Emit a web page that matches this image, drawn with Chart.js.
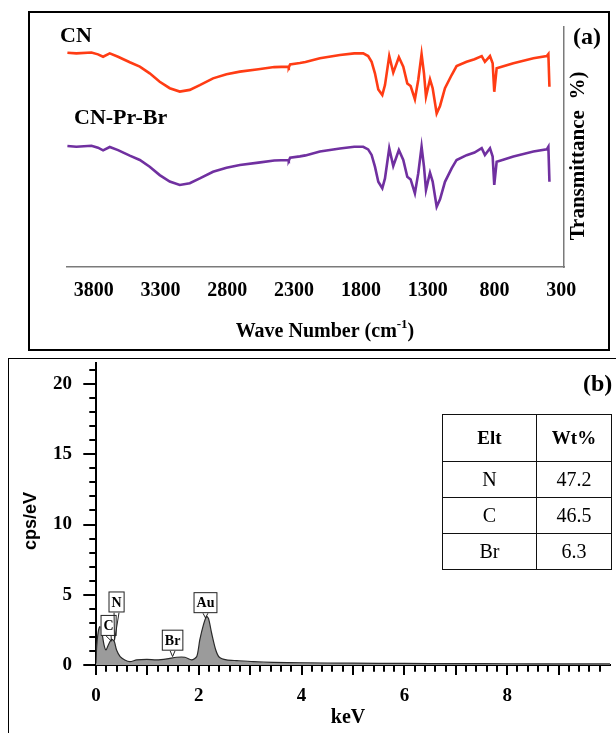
<!DOCTYPE html>
<html><head><meta charset="utf-8">
<script src="https://cdn.jsdelivr.net/npm/chart.js@4.4.1/dist/chart.umd.min.js"></script>
<style>
html,body{margin:0;padding:0;background:#fff;width:616px;height:733px;overflow:hidden;}
#boxA{position:absolute;left:28px;top:11px;width:582px;height:340px;border:2px solid #000;box-sizing:border-box;}
#boxB{position:absolute;left:8px;top:358px;width:640px;height:420px;border:1.5px solid #000;box-sizing:border-box;}
#cA{position:absolute;left:0;top:0;}
#cB{position:absolute;left:0;top:350px;}
#elt{position:absolute;left:442px;top:414px;border-collapse:collapse;font-family:'Liberation Serif','Times New Roman',serif;font-size:20px;color:#000;}
#elt td,#elt th{border:1.5px solid #111;text-align:center;padding:0;}
#elt th{font-weight:bold;height:46px;font-size:19px;}
#elt td{height:35px;}
</style>
</head><body>
<div id="boxA"></div>
<div id="boxB"></div>
<canvas id="cA" width="616" height="350"></canvas>
<canvas id="cB" width="616" height="383"></canvas>
<table id="elt">
<tr><th style="width:93px">Elt</th><th style="width:74px">Wt%</th></tr>
<tr><td>N</td><td>47.2</td></tr>
<tr><td>C</td><td>46.5</td></tr>
<tr><td>Br</td><td>6.3</td></tr>
</table>
<script>
// ---------- Panel (a): FTIR data ----------
const ftirWavenumber = [3997,3930,3817,3768,3730,3680,3618,3530,3455,3381,3306,3231,3156,3081,3006,2907,2806,2706,2567,2449,2345,2340,2330,2257,2215,2107,1957,1850,1783,1746,1720,1695,1670,1640,1620,1588,1558,1516,1483,1453,1428,1396,1371,1346,1328,1313,1296,1283,1263,1233,1208,1171,1121,1084,1009,950,896,872,834,814,802,784,759,659,509,409,397,389];
const cnTransmittance = [89.3,89.0,89.4,88.6,87.6,89.0,87.6,85.3,83.5,80.7,77.2,74.5,73.1,73.8,75.8,78.6,80.3,81.4,82.4,83.3,83.5,83.2,84.4,85.0,85.4,87.0,88.3,89.0,89.0,87.9,85.5,80.7,74.0,71.7,75.8,87.9,81.0,87.4,83.5,76.5,75.4,69.9,77.9,88.75,80.7,71.0,75.1,78.2,74.5,64.0,67.1,74.5,80.0,83.75,85.5,86.6,87.9,85.5,87.9,84.9,73.0,82.8,83.2,84.9,87.0,87.9,88.75,75.1];
const cnPrBrTransmittance = [50.4,50.1,50.5,49.7,48.6,50.0,48.7,46.4,44.6,41.8,38.3,35.6,34.2,34.9,36.9,39.7,41.4,42.5,43.5,44.4,44.6,44.3,45.5,46.1,46.5,48.1,49.4,50.1,50.1,49.0,46.7,41.8,35.5,32.8,36.9,49.5,42.1,48.75,44.6,37.6,36.5,30.7,39.0,50.1,41.8,32.1,36.2,39.3,35.6,25.1,28.2,35.5,41.1,44.6,46.6,47.7,49.5,46.7,49.5,46.0,34.2,43.9,44.3,46.0,48.1,49.0,50.1,35.5];
const ftirTickValues = [3800,3300,2800,2300,1800,1300,800,300];
const ftirSeriesNames = ['CN','CN-Pr-Br'];

// ---------- Panel (b): EDX data ----------
const edxEnergy = [0,0.013,0.045,0.078,0.11,0.156,0.195,0.24,0.305,0.356,0.40,0.47,0.56,0.66,0.79,0.99,1.18,1.38,1.57,1.73,1.86,1.96,2.02,2.09,2.15,2.19,2.25,2.33,2.40,2.54,2.74,3.06,3.45,4.0,5.0,6.0,7.0,8.0,9.0,10.0];
const edxCounts = [0.1,1.3,2.4,2.74,2.4,1.43,1.07,1.43,1.83,1.67,1.07,0.6,0.36,0.24,0.36,0.4,0.36,0.43,0.55,0.55,0.36,0.6,1.8,2.86,3.45,3.3,2.26,1.07,0.55,0.36,0.31,0.24,0.19,0.16,0.13,0.11,0.1,0.09,0.08,0.08];
const edxTickValuesX = [0,2,4,6,8];
const edxTickValuesY = [0,5,10,15,20];
const eltLabels = ['C','N','Br','Au'];
const eltLabelKeV = [0.245,0.40,1.49,2.13];
const eltBoxBottomCps = [2.07,3.74,1.02,3.69];
const eltTargetKeV = [0.30,0.36,1.49,2.13];
const eltTargetCps = [1.7,1.75,0.6,3.35];

const SERIF = '"Liberation Serif","Times New Roman",serif';
const SANS = '"Liberation Sans",Arial,sans-serif';

const annotA = {
  id:'annotA',
  afterDraw(chart){
    const ctx = chart.ctx;
    ctx.save();
    ctx.fillStyle = '#000';
    ctx.textBaseline = 'middle';
    ctx.font = 'bold 22px ' + SERIF;
    ctx.textAlign = 'left';
    ctx.fillText(ftirSeriesNames[0], 60, 36);
    ctx.fillText(ftirSeriesNames[1], 74, 118);
    ctx.font = 'bold 24px ' + SERIF;
    ctx.textAlign = 'center';
    ctx.fillText('(a)', 587, 38);
    ctx.save();
    ctx.translate(579, 156);
    ctx.rotate(-Math.PI/2);
    ctx.font = 'bold 21px ' + SERIF;
    ctx.textAlign = 'center';
    ctx.fillText('Transmittance  %)', 0, 0);
    ctx.restore();
    const p1 = 'Wave Number (cm', sup = '-1', p2 = ')';
    const f1 = 'bold 20px ' + SERIF, f2 = 'bold 13px ' + SERIF;
    ctx.font = f1; const w1 = ctx.measureText(p1).width, w3 = ctx.measureText(p2).width;
    ctx.font = f2; const w2 = ctx.measureText(sup).width;
    let x0 = 325 - (w1+w2+w3)/2;
    ctx.textAlign = 'left';
    ctx.font = f1; ctx.fillText(p1, x0, 332);
    ctx.font = f2; ctx.fillText(sup, x0 + w1, 325);
    ctx.font = f1; ctx.fillText(p2, x0 + w1 + w2, 332);
    ctx.restore();
  }
};

new Chart(document.getElementById('cA'), {
  type:'line',
  data:{datasets:[
    {label:ftirSeriesNames[0], data:ftirWavenumber.map((w,i)=>({x:w,y:cnTransmittance[i]})), borderColor:'#ff3c14', borderWidth:2.6, pointRadius:0, tension:0, fill:false},
    {label:ftirSeriesNames[1], data:ftirWavenumber.map((w,i)=>({x:w,y:cnPrBrTransmittance[i]})), borderColor:'#7030a0', borderWidth:2.6, pointRadius:0, tension:0, fill:false}
  ]},
  options:{
    responsive:false, animation:false, devicePixelRatio:1,
    layout:{padding:{left:67, top:27, right:0, bottom:0}},
    plugins:{legend:{display:false}, tooltip:{enabled:false}},
    scales:{
      x:{type:'linear', position:'bottom', reverse:true, min:280, max:4000,
         afterBuildTicks:s=>{s.ticks = ftirTickValues.map(v=>({value:v}));},
         afterFit:s=>{s.height = 83; s.paddingLeft = 0; s.paddingRight = 0;},
         grid:{display:false, drawTicks:false},
         border:{display:true, color:'#7a7a7a', width:1.5},
         ticks:{font:{family:SERIF, size:20, weight:'bold'}, color:'#000', padding:12, maxRotation:0, autoSkip:false, callback:v=>String(v)}
      },
      y:{type:'linear', position:'right', min:0, max:100,
         afterFit:s=>{s.width = 52; s.paddingTop = 0; s.paddingBottom = 0;},
         grid:{display:false, drawTicks:false},
         border:{display:true, color:'#7a7a7a', width:1.5},
         ticks:{display:false}
      }
    }
  },
  plugins:[annotA]
});

const annotB = {
  id:'annotB',
  afterDatasetsDraw(chart){
    const ctx = chart.ctx, xs = chart.scales.x, ys = chart.scales.y;
    ctx.save();
    ctx.font = 'bold 14px ' + SERIF;
    ctx.textBaseline = 'middle';
    ctx.textAlign = 'center';
    eltLabels.forEach((t,i)=>{
      const cx = xs.getPixelForValue(eltLabelKeV[i]);
      const bb = ys.getPixelForValue(eltBoxBottomCps[i]);
      const tw = ctx.measureText(t).width;
      const w = tw + 6, h = 21;
      const tx = xs.getPixelForValue(eltTargetKeV[i]);
      const ty = ys.getPixelForValue(eltTargetCps[i]);
      ctx.strokeStyle = '#222'; ctx.lineWidth = 1;
      ctx.beginPath();
      ctx.moveTo(cx-2.5, bb); ctx.lineTo(tx, ty); ctx.lineTo(cx+2.5, bb);
      ctx.stroke();
      ctx.fillStyle = '#fff';
      ctx.fillRect(cx - w/2, bb - h, w, h);
      ctx.strokeRect(cx - w/2 + 0.5, bb - h + 0.5, w - 1, h - 1);
      ctx.fillStyle = '#000';
      ctx.fillText(t, cx, bb - h/2 + 1);
    });
    ctx.restore();
  },
  afterDraw(chart){
    const ctx = chart.ctx, xs = chart.scales.x, ys = chart.scales.y;
    const ca = chart.chartArea;
    ctx.save();
    ctx.strokeStyle = '#000'; ctx.lineWidth = 2;
    ctx.beginPath();
    for (let v = 0; v <= 21; v++) {
      const py = Math.round(ys.getPixelForValue(v));
      const len = v % 5 === 0 ? 12.7 : 6.7;
      ctx.moveTo(ca.left - len, py); ctx.lineTo(ca.left, py);
    }
    for (let k = 0; k <= 49; k++) {
      const px = Math.round(xs.getPixelForValue(k * 0.2));
      const len = k % 5 === 0 ? 10 : 6.7;
      ctx.moveTo(px, ca.bottom); ctx.lineTo(px, ca.bottom + len);
    }
    ctx.stroke();
    ctx.fillStyle = '#000';
    ctx.textBaseline = 'middle';
    ctx.textAlign = 'left';
    ctx.font = 'bold 24px ' + SERIF;
    ctx.fillText('(b)', 583, 35);
    ctx.textAlign = 'center';
    ctx.font = 'bold 20px ' + SERIF;
    ctx.fillText('keV', 348, 368);
    ctx.save();
    ctx.translate(31, 171);
    ctx.rotate(-Math.PI/2);
    ctx.font = 'bold 18px ' + SANS;
    ctx.fillText('cps/eV', 0, 0);
    ctx.restore();
    ctx.restore();
  }
};

new Chart(document.getElementById('cB'), {
  type:'line',
  data:{datasets:[
    {label:'EDX', data:edxEnergy.map((e,i)=>({x:e,y:edxCounts[i]})), borderColor:'#2a2a2a', borderWidth:1.2, backgroundColor:'#9b9b9b', fill:'origin', pointRadius:0, tension:0.25}
  ]},
  options:{
    responsive:false, animation:false, devicePixelRatio:1,
    layout:{padding:{left:0, top:13, right:6, bottom:0}},
    plugins:{legend:{display:false}, tooltip:{enabled:false}},
    scales:{
      x:{type:'linear', position:'bottom', min:0, max:10,
         afterBuildTicks:s=>{s.ticks = edxTickValuesX.map(v=>({value:v}));},
         afterFit:s=>{s.height = 68; s.paddingLeft = 0; s.paddingRight = 0;},
         grid:{display:false, drawTicks:false},
         border:{display:true, color:'#000', width:2},
         ticks:{font:{family:SERIF, size:19, weight:'bold'}, color:'#000', padding:20, maxRotation:0, autoSkip:false, callback:v=>String(v)}
      },
      y:{type:'linear', position:'left', min:0, max:21.5,
         afterBuildTicks:s=>{s.ticks = edxTickValuesY.map(v=>({value:v}));},
         afterFit:s=>{s.width = 96; s.paddingTop = 0; s.paddingBottom = 0;},
         grid:{display:false, drawTicks:false},
         border:{display:true, color:'#000', width:2},
         ticks:{font:{family:SERIF, size:19, weight:'bold'}, color:'#000', padding:24, autoSkip:false, callback:v=>String(v)}
      }
    }
  },
  plugins:[annotB]
});
</script>
</body></html>
